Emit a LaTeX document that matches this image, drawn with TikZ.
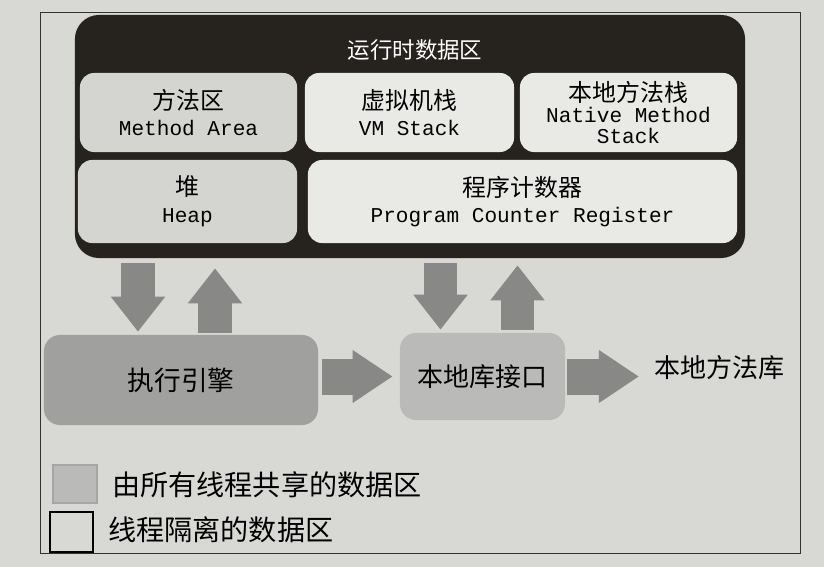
\documentclass[tikz,border=0pt]{standalone}
\usepackage{fontspec}
\setmainfont{Noto Sans CJK SC}
\setmonofont{Liberation Mono}
\usetikzlibrary{arrows.meta,calc}
\definecolor{paper}{RGB}{216,216,213}
\definecolor{rtdark}{RGB}{38,34,30}
\definecolor{privfill}{RGB}{233,233,230}
\definecolor{sharedfill}{RGB}{212,212,209}
\definecolor{arrowfill}{RGB}{136,136,134}
\definecolor{execfill}{RGB}{160,160,158}
\definecolor{ifacefill}{RGB}{186,186,184}
\tikzset{
  rtbox/.style={fill=rtdark, rounded corners=0.6cm, inner sep=0pt,
    minimum width=16.75cm, minimum height=6.075cm},
  area/.style={rounded corners=0.35cm, inner sep=0pt, align=center,
    font=\fontsize{17}{19}\selectfont},
  unitbox/.style={rounded corners=0.4cm, inner sep=0pt,
    font=\fontsize{19}{21}\selectfont},
  downarrow/.style={arrowfill, line width=0.825cm,
    -{Triangle[length=0.875cm, width=1.3cm]}},
  rightarrow/.style={arrowfill, line width=0.9cm,
    -{Triangle[length=1.0cm, width=1.25cm]}},
  keybox/.style={inner sep=0pt, line width=0.8pt},
  keytext/.style={anchor=west, inner sep=0pt},
}
\newcommand{\entext}[1]{{\ttfamily\fontsize{15}{17}\selectfont #1}}

\begin{document}
\begin{tikzpicture}[x=0.025cm, y=-0.025cm]
    % Paper and frame
    \fill[paper] (0,0) rectangle (824,567);
    \useasboundingbox (0,0) rectangle (824,567);
    \draw[black!80, line width=0.6pt] (40,12) rectangle (800,553);
    % Runtime data area
    \node[rtbox] (rt) at (410,136.5) {};
    \node[white, font=\fontsize{16}{18}\selectfont] (rttitle) at (415,50) {运行时数据区};
    \node[area, fill=sharedfill, minimum width=5.425cm, minimum height=1.975cm]
      (method) at (188.5,112.5) {方法区\\\entext{Method Area}};
    \node[area, fill=privfill, minimum width=5.225cm, minimum height=1.975cm]
      (vmstack) at (409.5,112.5) {虚拟机栈\\\entext{VM Stack}};
    \node[area, fill=privfill, minimum width=5.425cm, minimum height=1.975cm]
      (nstack) at (628.5,112.5) {本地方法栈\\[-4pt]\entext{Native Method}\\[-4pt]\entext{Stack}};
    \node[area, fill=sharedfill, minimum width=5.475cm, minimum height=2.075cm]
      (heap) at (187.5,201.5) {堆\\\entext{Heap}};
    \node[area, fill=privfill, minimum width=10.725cm, minimum height=2.075cm]
      (pc) at (522.5,201.5) {程序计数器\\\entext{Program Counter Register}};
    % Execution engine and native interface
    \node[unitbox, fill=execfill, minimum width=6.85cm, minimum height=2.25cm]
      (exec) at (181,380) {执行引擎};
    \node[unitbox, fill=ifacefill, minimum width=4.125cm, minimum height=2.175cm,
      font=\fontsize{18.5}{20}\selectfont] (iface) at (482.5,376.5) {本地库接口};
    \node[keytext, font=\fontsize{18.5}{20}\selectfont] (nlib) at (654,368) {本地方法库};
    % Arrows between the units
    \coordinate (d1) at ($(exec.north)+(-43,0)$);
    \coordinate (u1) at ($(exec.north)+(34,0)$);
    \coordinate (d2) at ($(iface.north)+(-42,0)$);
    \coordinate (u2) at ($(iface.north)+(35,0)$);
    \draw[downarrow, shorten <=0.125cm, shorten >=0.075cm] (d1 |- rt.south) -- (d1);
    \draw[downarrow, shorten <=0.05cm, shorten >=0.25cm] (u1) -- (u1 |- rt.south);
    \draw[downarrow, shorten <=0.125cm, shorten >=0.075cm] (d2 |- rt.south) -- (d2);
    \draw[downarrow, shorten <=0.075cm, shorten >=0.175cm] (u2) -- (u2 |- rt.south);
    \draw[rightarrow, shorten <=0.1cm, shorten >=0.175cm] (exec.east |- iface.west) -- (iface.west);
    \draw[rightarrow, shorten <=0.05cm, shorten >=0.375cm] (iface.east) -- (iface.east -| nlib.west);
    % Legend
    \node[keybox, fill=ifacefill, draw=black!35, minimum width=1.1cm, minimum height=0.95cm]
      (keyshared) at (75,484) {};
    \node[keybox, draw=black, minimum width=1.075cm, minimum height=1.0cm]
      (keyprivate) at (71.5,532) {};
    \node[keytext, font=\fontsize{20}{22}\selectfont] (keysharedtext) at (112,485) {由所有线程共享的数据区};
    \node[keytext, font=\fontsize{20}{22}\selectfont] (keyprivatetext) at (108,530) {线程隔离的数据区};
  \end{tikzpicture}
\end{document}
